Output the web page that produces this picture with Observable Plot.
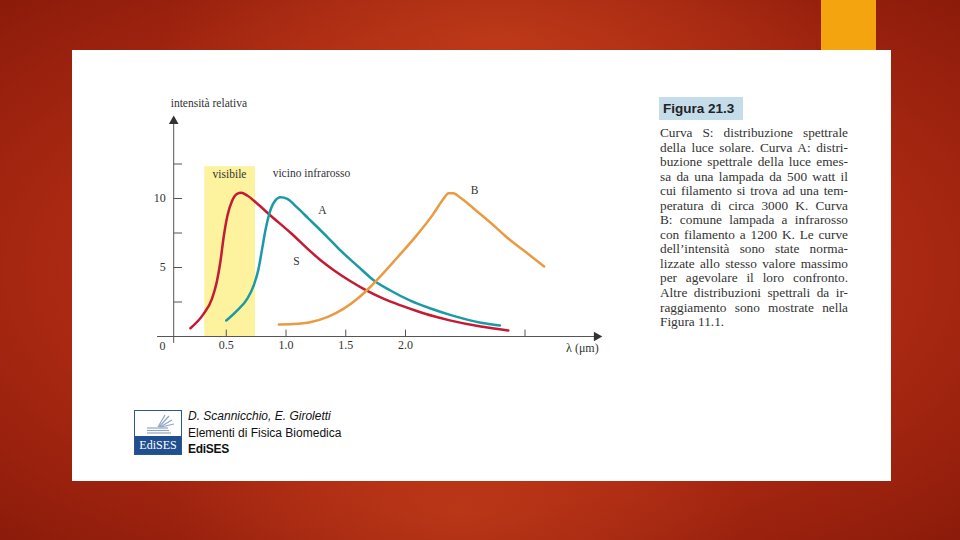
<!DOCTYPE html>
<html>
<head>
<meta charset="utf-8">
<script src="https://cdn.jsdelivr.net/npm/d3@7"></script>
<script src="https://cdn.jsdelivr.net/npm/@observablehq/plot@0.6"></script>
<style>
html,body{margin:0;padding:0;}
body{width:960px;height:540px;overflow:hidden;position:relative;
  background:
    radial-gradient(ellipse 35% 30% at 52% 8%, rgba(205,70,30,0.55), rgba(205,70,30,0) 100%),
    radial-gradient(ellipse 30% 25% at 48% 95%, rgba(205,70,30,0.5), rgba(205,70,30,0) 100%),
    radial-gradient(ellipse 75% 70% at 50% 50%, #c1381a 0%, #b12c14 50%, #8a1a0a 100%);}
#panel{position:absolute;left:72px;top:50px;width:819px;height:431px;background:#fff;}
#tab{position:absolute;left:821px;top:0;width:55px;height:50px;background:#f4a40f;}
#chart{position:absolute;left:100px;top:90px;}
#figlabel{position:absolute;left:659px;top:97px;width:84px;height:23px;background:#c5dcea;
  font-family:"Liberation Sans",Arial,sans-serif;font-weight:bold;font-size:13.5px;color:#222;
  line-height:23px;padding-left:4px;box-sizing:border-box;}
#caption{position:absolute;left:660px;top:126px;width:188px;
  font-family:"Liberation Serif","Times New Roman",serif;font-size:13.3px;color:#333;line-height:14.55px;}
#caption div{text-align:justify;text-align-last:justify;white-space:nowrap;}
#caption div.last{text-align-last:left;}
#logo{position:absolute;left:134px;top:410px;width:48px;height:45px;border:1px solid #2a5894;box-sizing:border-box;background:#fff;}
#logo .band{position:absolute;left:0;right:0;bottom:0;height:18px;background:#1f4f8f;color:#fff;
  font-family:"Liberation Serif",serif;font-size:12px;line-height:18px;text-align:center;}
#logo svg{position:absolute;left:0;top:0;}
#credits{position:absolute;left:188px;top:408px;font-family:"Liberation Sans",Arial,sans-serif;font-size:12px;color:#111;line-height:16.5px;}
#credits .a{font-style:italic;}
#credits .e{font-weight:bold;letter-spacing:-0.3px;}
</style>
</head>
<body>
<div id="tab"></div>
<div id="panel"></div>
<div id="figlabel">Figura 21.3</div>
<div id="caption">
<div>Curva S: distribuzione spettrale</div>
<div>della luce solare. Curva A: distri-</div>
<div>buzione spettrale della luce emes-</div>
<div>sa da una lampada da 500 watt il</div>
<div>cui filamento si trova ad una tem-</div>
<div>peratura di circa 3000 K. Curva</div>
<div>B: comune lampada a infrarosso</div>
<div>con filamento a 1200 K. Le curve</div>
<div>dell’intensità sono state norma-</div>
<div>lizzate allo stesso valore massimo</div>
<div>per agevolare il loro confronto.</div>
<div>Altre distribuzioni spettrali da ir-</div>
<div>raggiamento sono mostrate nella</div>
<div class="last">Figura 11.1.</div>
</div>
<div id="logo">
<svg width="46" height="26" viewBox="0 0 46 26">
<g stroke="#8fa6c2" stroke-width="1.2" fill="none">
<line x1="12" y1="22" x2="36" y2="22"/>
<line x1="12" y1="19.5" x2="34" y2="19.5"/>
<line x1="12" y1="17" x2="33" y2="17"/>
<line x1="24" y1="16" x2="34" y2="5"/>
<line x1="25" y1="16" x2="37" y2="9"/>
<line x1="26" y1="16" x2="39" y2="13"/>
<line x1="23" y1="16" x2="30" y2="4"/>
</g>
</svg>
<div class="band">EdiSES</div>
</div>
<div id="credits">
<div class="a">D. Scannicchio, E. Giroletti</div>
<div>Elementi di Fisica Biomedica</div>
<div class="e">EdiSES</div>
</div>
<div id="chart"></div>
<script>
// Curve S: solar spectrum
const sLambda = [0.20,0.31,0.38,0.42,0.45,0.48,0.51,0.55,0.59,0.625,0.675,0.76,0.87,1.04,1.20,1.30,1.40,1.54,1.68,1.82,1.96,2.10,2.23,2.37,2.63,2.86];
const sIntensity = [0.60,1.64,2.73,3.93,5.38,7.32,8.77,9.86,10.34,10.41,10.22,9.62,8.77,7.5,6.2,5.45,4.8,4.0,3.3,2.72,2.25,1.83,1.48,1.17,0.72,0.43];
// Curve A: 500 W lamp, ~3000 K
const aLambda = [0.50,0.59,0.675,0.73,0.77,0.80,0.83,0.86,0.90,0.955,1.01,1.09,1.19,1.35,1.46,1.60,1.73,1.87,2.04,2.21,2.38,2.63,2.79];
const aIntensity = [1.16,1.88,2.73,3.7,4.9,6.35,7.8,8.89,9.73,10.09,9.98,9.37,8.53,7.17,6.2,5.1,4.1,3.35,2.6,2.03,1.55,1.0,0.8];
// Curve B: infrared lamp, 1200 K
const bLambda = [0.94,1.06,1.21,1.35,1.48,1.60,1.70,1.82,1.96,2.10,2.23,2.32,2.36,2.40,2.46,2.57,2.71,2.85,2.99,3.16];
const bIntensity = [0.87,0.9,1.05,1.42,2.0,2.75,3.55,4.65,6.0,7.4,8.85,10.0,10.38,10.38,10.05,9.28,8.26,7.17,6.23,5.07];

const seriesNames = ["S","A","B"];
const seriesColors = ["#c41a33","#1b9aa5","#ea9a40"];
const labelLambda = [1.088,1.305,2.577];
const labelIntensity = [5.43,9.13,10.58];

const xTickValues = [0.5,1.0,1.5,2.0];
const xTickMarks = [0.5,1.0,1.5,2.0,3.0];
const yTickLabels = [5,10];
const yTickMarks = [2.5,5,7.5,10,12.5];

const visibleRange = [0.32,0.745];
const visibleTop = 12.3;
const regionNames = ["visibile","vicino infrarosso"];
const regionLambda = [0.527,1.213];
const regionIntensity = [11.74,11.81];

const xDomain = [0.06,3.6];
const yDomain = [0,16];
const yAxisAt = 0.06;
const xAxisStart = -0.075;
const yAxisBottom = -0.5;
const yAxisTop = 15.6;
const xTickLen = 0.5;     // in intensity units
const yTickLen = 0.07;    // in µm units

const rows = [];
[[sLambda,sIntensity],[aLambda,aIntensity],[bLambda,bIntensity]].forEach(([L,I],k) => {
  L.forEach((l,i) => rows.push({series: seriesNames[k], lambda: l, intensity: I[i]}));
});
const labels = seriesNames.map((n,i) => ({name:n, lambda: labelLambda[i], intensity: labelIntensity[i]}));
const regions = regionNames.map((n,i) => ({name:n, lambda: regionLambda[i], intensity: regionIntensity[i]}));

const axisColor = "#555";

const chart = Plot.plot({
  width: 520,
  height: 290,
  marginLeft: 73.2,
  marginRight: 23.8,
  marginTop: 25.2,
  marginBottom: 44,
  style: {background: "transparent", fontFamily: "Liberation Serif, Times New Roman, serif", fontSize: "12px", color: "#333"},
  x: {domain: xDomain},
  y: {domain: yDomain},
  color: {domain: seriesNames, range: seriesColors},
  marks: [
    Plot.rect([visibleRange], {x1: d => d[0], x2: d => d[1], y1: 0, y2: visibleTop, fill: "#fdf29d"}),
    Plot.ruleY([0], {x1: xAxisStart, x2: xDomain[1], stroke: axisColor, strokeWidth: 1}),
    Plot.ruleX([yAxisAt], {y1: yAxisBottom, y2: yAxisTop, stroke: axisColor, strokeWidth: 1}),
    Plot.dot([{x: xDomain[1], y: 0}], {x: "x", y: "y", symbol: "triangle", rotate: 90, r: 3.6, fill: "#333", stroke: null}),
    Plot.dot([{x: yAxisAt, y: yAxisTop}], {x: "x", y: "y", symbol: "triangle", r: 3.6, fill: "#333", stroke: null}),
    Plot.link(xTickMarks, {x1: d => d, x2: d => d, y1: 0, y2: xTickLen, stroke: axisColor}),
    Plot.link(yTickMarks, {x1: yAxisAt, x2: yAxisAt + yTickLen, y1: d => d, y2: d => d, stroke: axisColor}),
    Plot.axisX({ticks: xTickValues, tickSize: 0, tickPadding: 4, tickFormat: d3.format(".1f"), label: null, fontSize: 12}),
    Plot.axisY({ticks: yTickLabels, tickSize: 0, tickPadding: 8, label: null, fontSize: 12}),
    Plot.text(["0"], {x: 0, y: 0, dx: -4, dy: 10, fontSize: 12, fill: "#333"}),
    Plot.text(["intensità relativa"], {x: yAxisAt, y: 16.88, dx: -3, textAnchor: "start", fontSize: 11.5, fill: "#333"}),
    Plot.text(["λ (μm)"], {x: xDomain[1], y: 0, dx: 2, dy: 12, textAnchor: "end", fontSize: 12, fill: "#333"}),
    Plot.line(rows, {x: "lambda", y: "intensity", z: "series", stroke: "series", strokeWidth: 2.5, curve: "monotone-x"}),
    Plot.text(labels, {x: "lambda", y: "intensity", text: "name", fontSize: 11.5, fill: "#333"}),
    Plot.text(regions, {x: "lambda", y: "intensity", text: "name", fontSize: 11.5, fill: "#333"})
  ]
});
document.getElementById("chart").appendChild(chart);
</script>
</body>
</html>
